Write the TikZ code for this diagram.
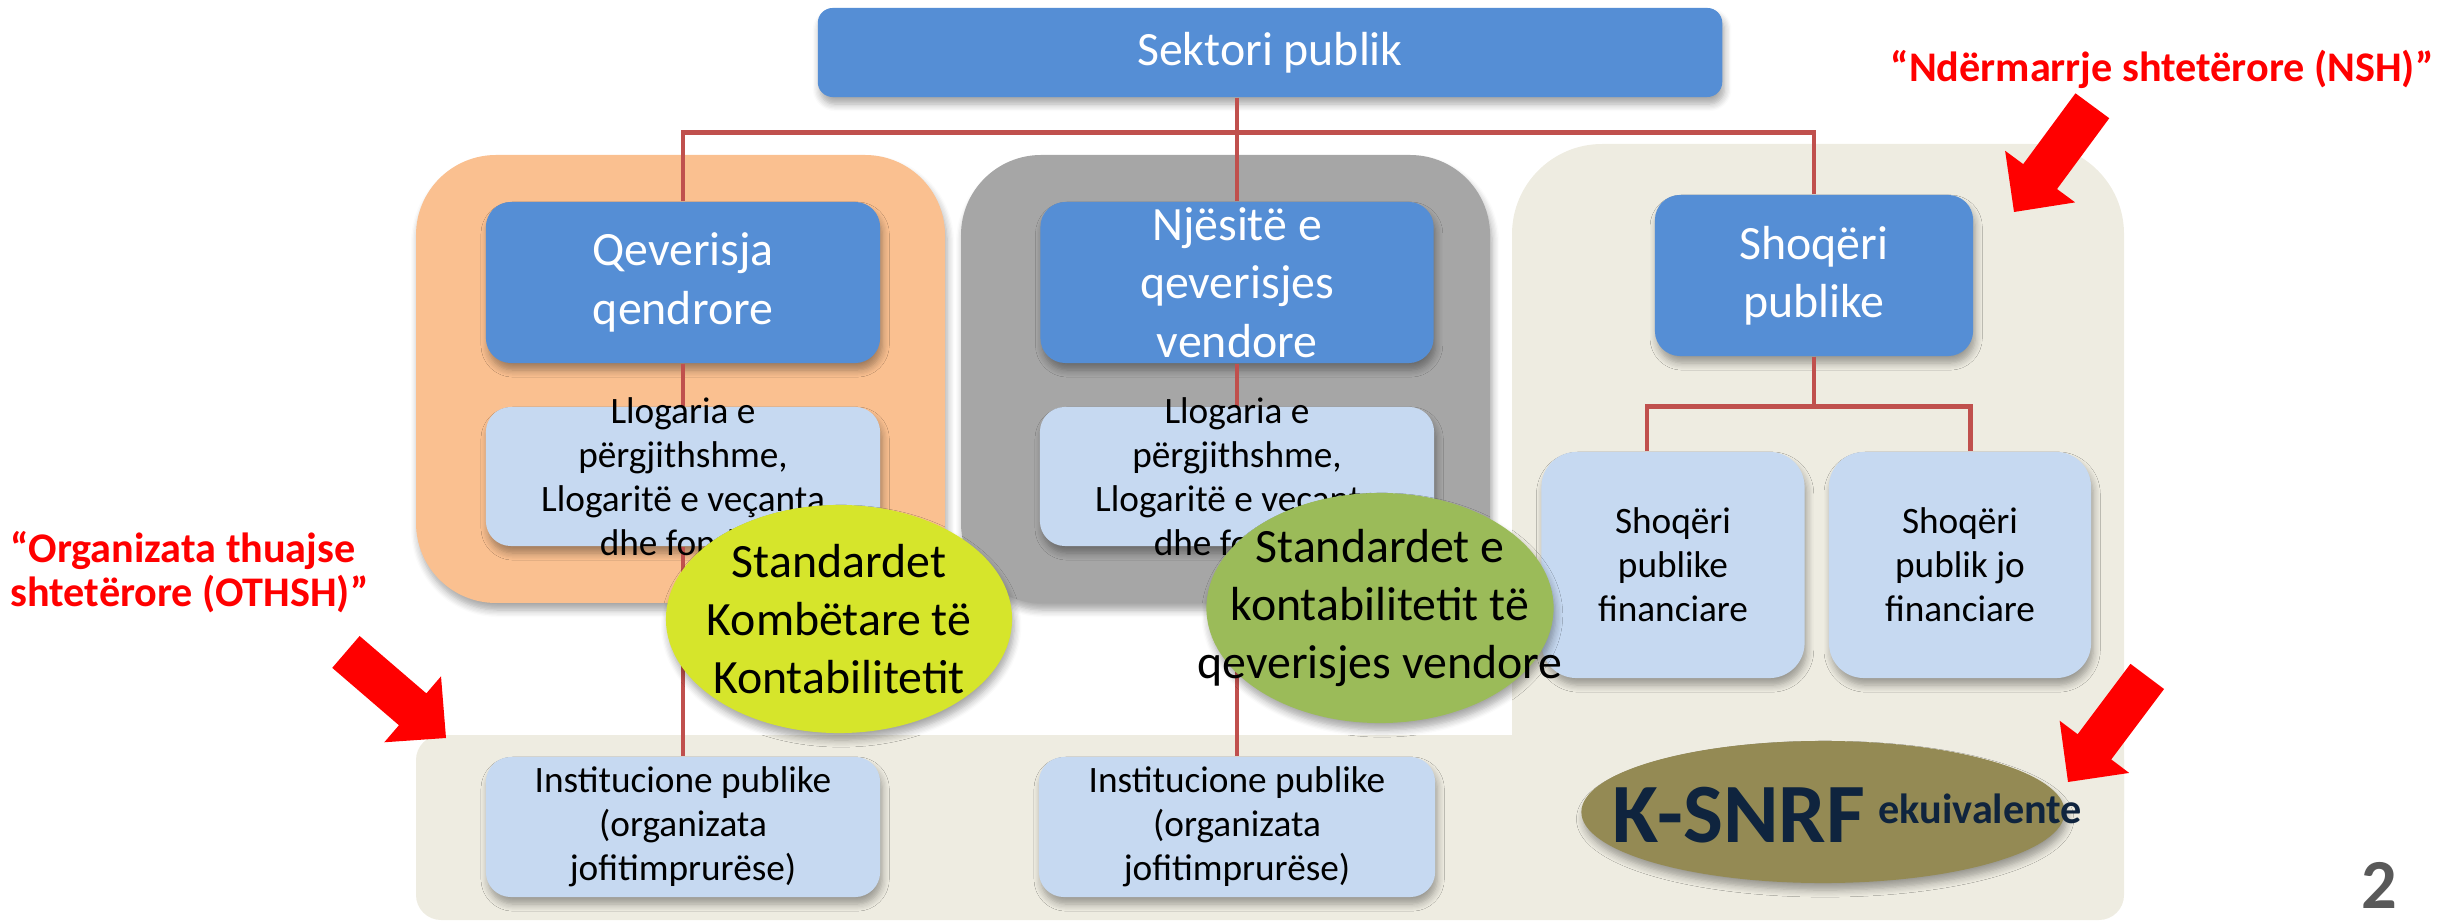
\documentclass[tikz,border=0pt]{standalone}
\usepackage{fontspec}
\setmainfont{Carlito}
\usetikzlibrary{shapes.geometric,shadows.blur,calc}
\definecolor{boxblue}{HTML}{558ED5}
\definecolor{lightblue}{HTML}{C6D9F1}
\definecolor{orangebg}{HTML}{FAC090}
\definecolor{graybg}{HTML}{A6A6A6}
\definecolor{beigebg}{HTML}{EEECE1}
\definecolor{connred}{HTML}{C0504D}
\definecolor{limeell}{HTML}{D6E52B}
\definecolor{greenell}{HTML}{9BBB59}
\definecolor{oliveell}{HTML}{948A54}
\definecolor{navytxt}{HTML}{0F243E}
\definecolor{pagegray}{HTML}{595959}
\tikzset{
  shd/.style={blur shadow={shadow xshift=0.6pt, shadow yshift=-2pt, shadow blur radius=2pt, shadow blur steps=6, shadow opacity=35}},
  bluebox/.style={fill=boxblue, rounded corners=0.25cm, text=white, font=\fontsize{13.6}{16.6}\selectfont, align=center, inner sep=0pt, shd},
  bluetext/.style={text=white, font=\fontsize{13.6}{16.6}\selectfont, align=center, inner sep=0pt},
  lightbox/.style={fill=lightblue, rounded corners=0.25cm, font=\fontsize{10.6}{12.7}\selectfont, align=center, inner sep=0pt, shd},
  lighttext/.style={font=\fontsize{10.6}{12.5}\selectfont, align=center, inner sep=0pt},
  ellbox/.style={ellipse, inner sep=0pt, shd},
  elltext/.style={font=\fontsize{13.6}{16.4}\selectfont, align=center, inner sep=0pt},
  conn/.style={draw=connred, line width=1.4pt},
  redlbl/.style={text=red, font=\bfseries\fontsize{12}{12.6}\selectfont, inner sep=0pt},
  redarrow/.pic={\fill[red] (0,0) -- (-44,43.5) -- (-44,21) -- (-132,21) -- (-132,-21) -- (-44,-21) -- (-44,-43.5) -- cycle;}
}
\begin{document}
\begin{tikzpicture}[x=0.01cm, y=-0.01cm]
\useasboundingbox (0,0) rectangle (2458,922);
% background panels
\fill[beigebg, rounded corners=0.25cm] (416,735) rectangle (2124,920);
\fill[beigebg, rounded corners=0.9cm] (1512,144) rectangle (2124,900);
\fill[orangebg, rounded corners=0.8cm, shd] (416,155) rectangle (945,603);
\fill[graybg, rounded corners=0.8cm, shd] (961,155) rectangle (1490,603);
% boxes
\node[bluebox, minimum width=9.04cm, minimum height=0.89cm, rounded corners=0.15cm] (sek) at (1270,52.5) {Sektori publik};
\node[bluebox, minimum width=3.94cm, minimum height=1.61cm] (qev) at (683,282.5) {};
\node[bluebox, minimum width=3.93cm, minimum height=1.61cm] (njesi) at (1237,282.5) {};
\node[bluebox, minimum width=3.18cm, minimum height=1.61cm] (shoq) at (1814,275.5) {};
\node[lightbox, minimum width=3.94cm, minimum height=1.39cm] (llog1) at (683,476.5) {};
\node[lightbox, minimum width=3.94cm, minimum height=1.39cm] (llog2) at (1237,476.5) {};
\node[lightbox, minimum width=3.94cm, minimum height=1.40cm] (inst1) at (683,827) {};
\node[lightbox, minimum width=3.96cm, minimum height=1.40cm] (inst2) at (1237,827) {};
\node[lightbox, rounded corners=0.35cm, minimum width=2.63cm, minimum height=2.26cm] (fin1) at (1673,565) {};
\node[lightbox, rounded corners=0.35cm, minimum width=2.62cm, minimum height=2.26cm] (fin2) at (1960,565) {};
% connectors
\draw[conn] (sek.south -| njesi.north) -- (njesi.north);
\draw[conn] (qev.north) -- ++(0,-69) -| (shoq.north);
\draw[conn] (qev.south) -- (llog1.north);
\draw[conn] (llog1.south) -- (inst1.north);
\draw[conn] (njesi.south) -- (llog2.north);
\draw[conn] (llog2.south) -- (inst2.north);
\draw[conn] (shoq.south) -- ++(0,51);
\draw[conn] ([xshift=-0.26cm]fin1.north) -- ++(0,-45) -| ([xshift=0.1cm]fin2.north);
% box texts
\node[bluetext] (qevt) at (qev.center) {Qeverisja\\qendrore};
\node[bluetext] (njesit) at (njesi.center) {Njësitë e\\qeverisjes\\vendore};
\node[bluetext] (shoqt) at (shoq.center) {Shoqëri\\publike};
\node[lighttext] (llog1t) at (llog1.center) {Llogaria e\\përgjithshme,\\Llogaritë e veçanta\\dhe fondet};
\node[lighttext] (llog2t) at (llog2.center) {Llogaria e\\përgjithshme,\\Llogaritë e veçanta\\dhe fondet};
\node[lighttext] (inst1t) at (inst1.center) {Institucione publike\\(organizata\\jofitimprurëse)};
\node[lighttext] (inst2t) at (inst2.center) {Institucione publike\\(organizata\\jofitimprurëse)};
\node[lighttext] (fin1t) at (fin1.center) {Shoqëri\\publike\\financiare};
\node[lighttext] (fin2t) at (fin2.center) {Shoqëri\\publik jo\\financiare};
% ellipses
\node[ellbox, fill=limeell, minimum width=3.46cm, minimum height=2.28cm] (std1) at (839,619) {};
\node[ellbox, fill=greenell, minimum width=3.47cm, minimum height=2.30cm] (std2) at (1380,608) {};
\node[ellbox, fill=oliveell, minimum width=4.83cm, minimum height=1.42cm] (ksnrf) at (1823,812) {};
\node[elltext] (std1t) at (std1.center) {Standardet\\Kombëtare të\\Kontabilitetit};
\node[elltext] (std2t) at (std2.center) {Standardet e\\kontabilitetit të\\qeverisjes vendore};
\node[anchor=base west, text=navytxt, inner sep=0pt, font=\bfseries\fontsize{24}{28}\selectfont] (ksnrft) at (1612,842) {K-SNRF};
\node[anchor=base west, text=navytxt, inner sep=0pt, font=\bfseries\fontsize{12}{14}\selectfont] (ekuiv) at (1878,823) {ekuivalente};
% red annotations
\node[redlbl, anchor=base west] (nsh) at (1890,82) {“Ndërmarrje shtetërore (NSH)”};
\node[redlbl, anchor=west, align=left] (othsh) at (10,572) {“Organizata thuajse\\shtetërore (OTHSH)”};
\pic[rotate=-40.7] at (446,738) {redarrow};
\pic[rotate=-126.4] at (2014,212) {redarrow};
\pic[rotate=-126.9] at (2068,782) {redarrow};
% page number
\node[anchor=base, text=pagegray, inner sep=0pt, font=\bfseries\fontsize{20}{24}\selectfont] (pnum) at (2379,908) {2};
\end{tikzpicture}
\end{document}
